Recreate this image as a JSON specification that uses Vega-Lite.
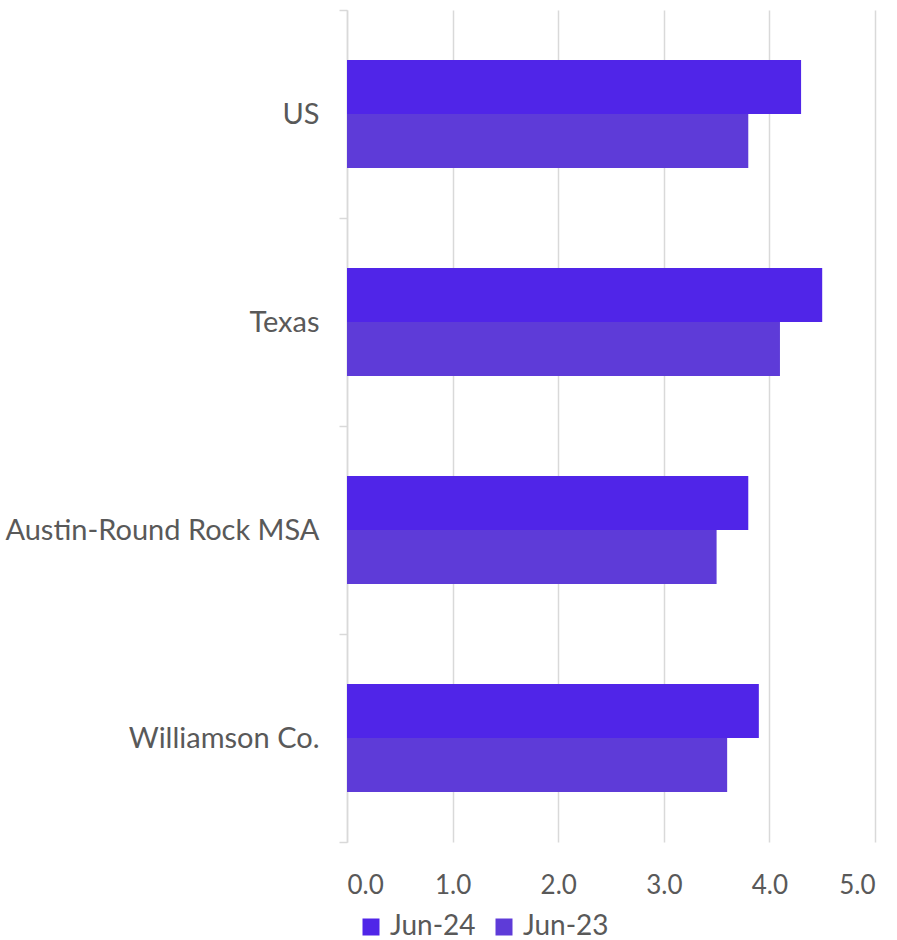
{
  "$schema": "https://vega.github.io/schema/vega-lite/v6.json",
  "width": 528,
  "height": 832,
  "autosize": "none",
  "padding": {"left": 347, "top": 10, "right": 22, "bottom": 98},
  "background": "white",
  "config": {
    "view": {"stroke": null},
    "font": "Lato"
  },
  "data": {
    "values": [
      {"region": "US", "period": "Jun-24", "value": 4.3},
      {"region": "US", "period": "Jun-23", "value": 3.8},
      {"region": "Texas", "period": "Jun-24", "value": 4.5},
      {"region": "Texas", "period": "Jun-23", "value": 4.1},
      {"region": "Austin-Round Rock MSA", "period": "Jun-24", "value": 3.8},
      {"region": "Austin-Round Rock MSA", "period": "Jun-23", "value": 3.5},
      {"region": "Williamson Co.", "period": "Jun-24", "value": 3.9},
      {"region": "Williamson Co.", "period": "Jun-23", "value": 3.6}
    ]
  },
  "mark": {"type": "bar"},
  "encoding": {
    "y": {
      "field": "region",
      "type": "nominal",
      "sort": ["US", "Texas", "Austin-Round Rock MSA", "Williamson Co."],
      "scale": {"paddingInner": 0, "paddingOuter": 0},
      "axis": {
        "title": null,
        "labelFontSize": 29,
        "labelColor": "#595959",
        "labelPadding": 20,
        "labelLimit": 400,
        "tickSize": 8,
        "tickColor": "#d9d9d9",
        "tickWidth": 1.5,
        "tickBand": "extent",
        "domainColor": "#d9d9d9",
        "domainWidth": 1.5,
        "grid": false
      }
    },
    "yOffset": {
      "field": "period",
      "type": "nominal",
      "sort": ["Jun-24", "Jun-23"],
      "scale": {"paddingInner": 0, "paddingOuter": 0.926}
    },
    "x": {
      "field": "value",
      "type": "quantitative",
      "scale": {"domain": [0, 5], "nice": false},
      "axis": {
        "title": null,
        "values": [0, 1, 2, 3, 4, 5],
        "format": ".1f",
        "labelFontSize": 26,
        "labelColor": "#595959",
        "labelPadding": 30,
        "ticks": false,
        "domain": false,
        "grid": true,
        "gridColor": "#d9d9d9",
        "gridWidth": 1.5
      }
    },
    "color": {
      "field": "period",
      "type": "nominal",
      "sort": ["Jun-24", "Jun-23"],
      "scale": {"domain": ["Jun-24", "Jun-23"], "range": ["#5025E8", "#5E3BD8"]},
      "legend": {
        "title": null,
        "orient": "none",
        "direction": "horizontal",
        "legendX": 10,
        "legendY": 903,
        "symbolType": "square",
        "symbolSize": 289,
        "symbolStrokeWidth": 0,
        "labelFontSize": 28,
        "labelColor": "#595959",
        "labelOffset": 5,
        "columnPadding": 14
      }
    }
  }
}
